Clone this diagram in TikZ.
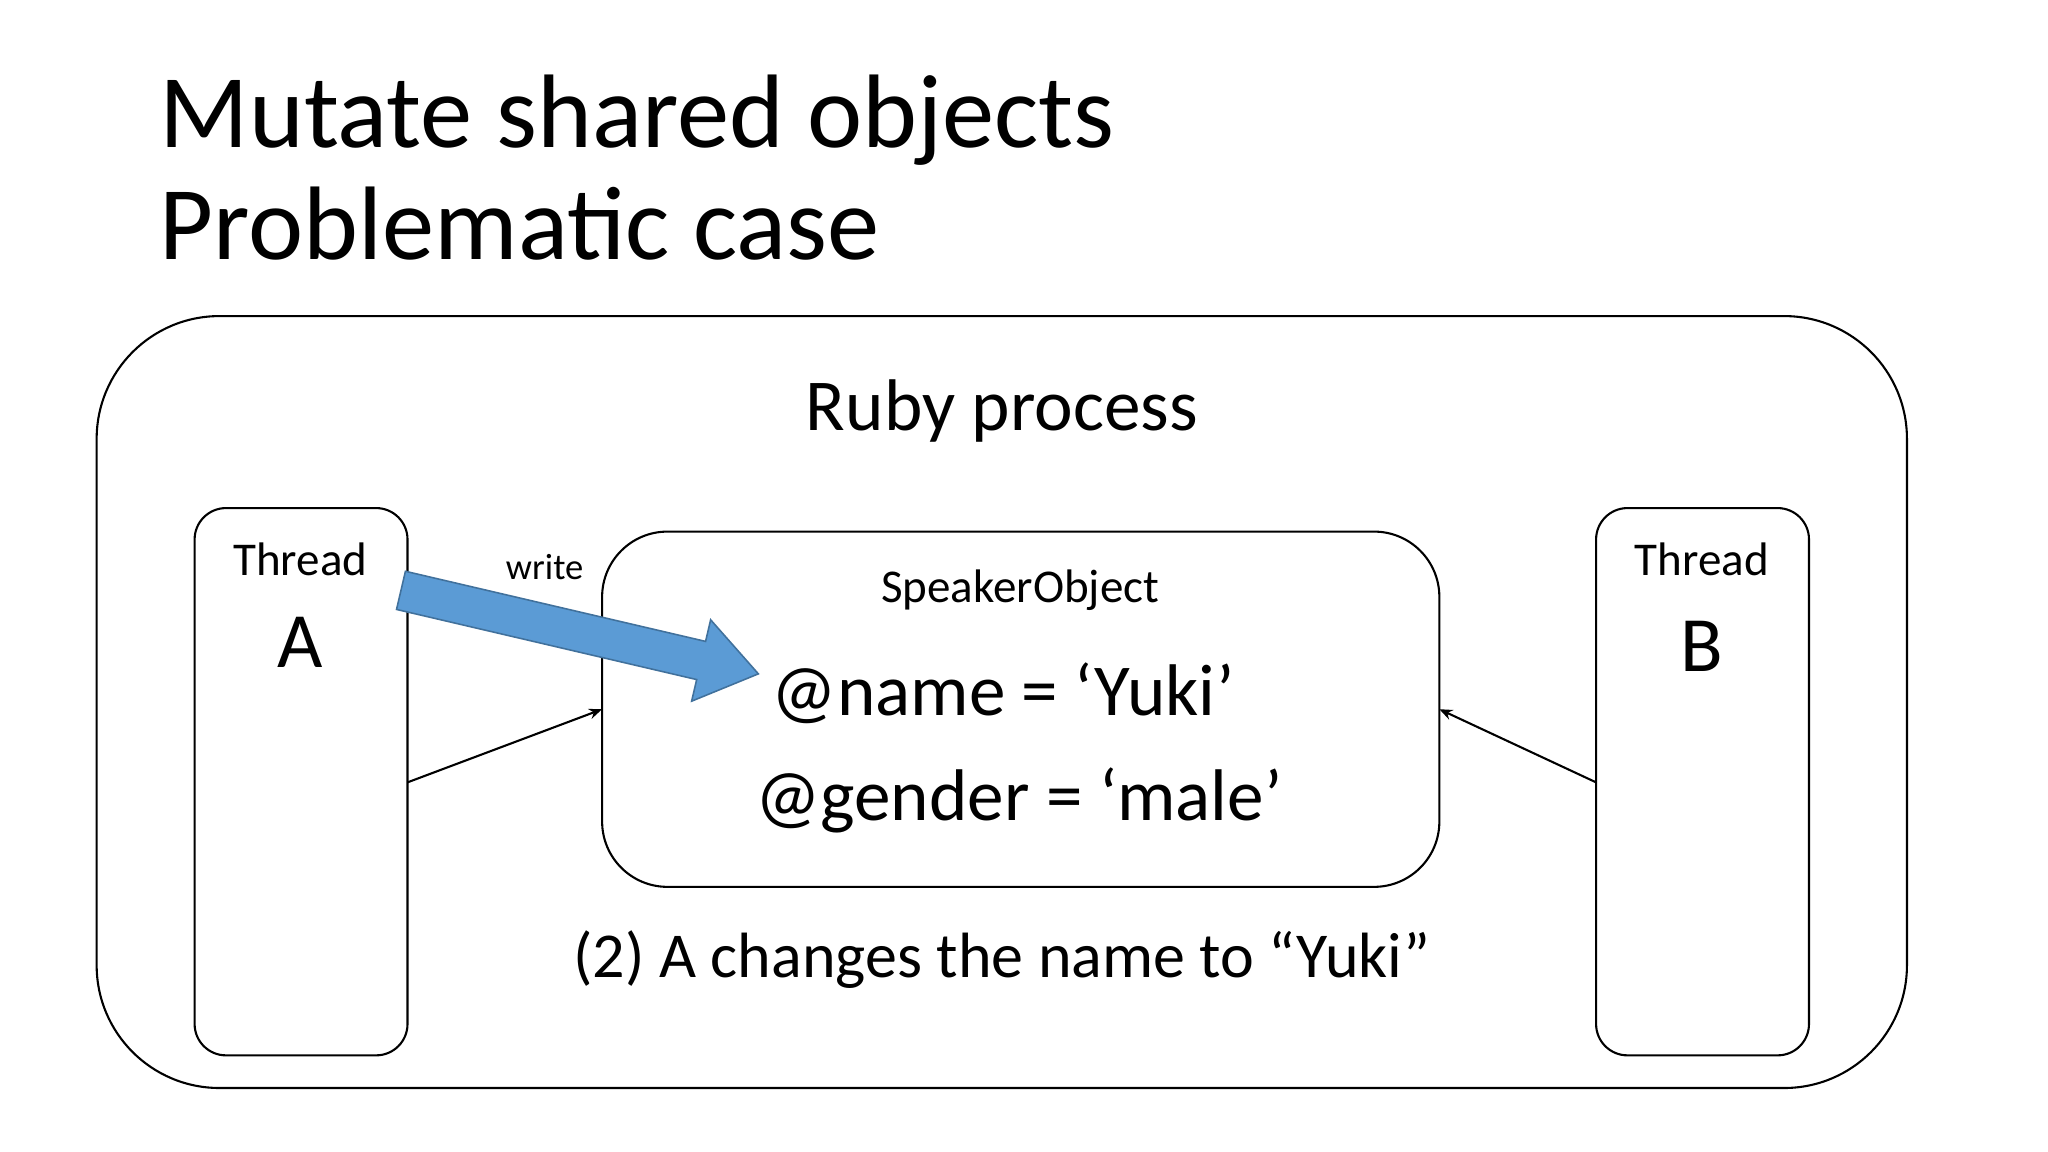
\documentclass[tikz,border=0pt]{standalone}
\usepackage{fontspec}
\setmainfont{Carlito}
\usetikzlibrary{arrows.meta}
\definecolor{blu}{HTML}{5B9BD5}
\definecolor{bluedge}{HTML}{41719C}
\begin{document}
\begin{tikzpicture}[x=0.5pt,y=-0.5pt,
  box/.style={draw,line width=0.8pt},
  conn/.style={line width=0.8pt,-{Stealth[length=5pt,width=4pt]}},
  fs/.style={font=\fontsize{#1}{#1}\selectfont, inner sep=0pt}]
\useasboundingbox[fill=white] (0,0) rectangle (1568,882);
\node[fs=40,anchor=base west] (t1) at (122,113) {Mutate shared objects};
\node[fs=40,anchor=base west] (t2) at (122,199) {Problematic case};
\draw[box,rounded corners=47pt] (74,242) rectangle (1460,833);
\node[fs=28] (rp) at (767,315) {Ruby process};
\draw[box,rounded corners=12pt] (149,389) rectangle (312,808);
\coordinate (A1) at (312,599);
\node[fs=18] (ta) at (230,428) {Thread};
\node[fs=30] (la) at (230,492) {A};
\draw[box,rounded corners=12pt] (1222,389) rectangle (1385,808);
\coordinate (B1) at (1222,599);
\node[fs=18] (tb) at (1303,428) {Thread};
\node[fs=30] (lb) at (1303,495) {B};
\draw[box,rounded corners=25pt] (461,407) rectangle (1102,679);
\coordinate (SL) at (461,543);
\coordinate (SR) at (1102,543);
\node[fs=18] (so) at (781,452) {SpeakerObject};
\node[fs=28] (nm) at (768,531) {@name = ‘Yuki’};
\node[fs=28] (gd) at (780,613) {@gender = ‘male’};
\node[fs=24.5] (cap) at (767,735) {(2) A changes the name to “Yuki”};
\node[fs=14] (wr) at (417,434) {write};
\draw[conn] (A1) -- (SL);
\draw[conn] (B1) -- (SR);
\begin{scope}[shift={(307,452)},rotate=-13.15]
\draw[fill=blu,draw=bluedge,line width=0.6pt]
  (0,-15) -- (236,-15) -- (236,-32) -- (281,0) -- (236,32) -- (236,15) -- (0,15) -- cycle;
\end{scope}
\end{tikzpicture}
\end{document}
